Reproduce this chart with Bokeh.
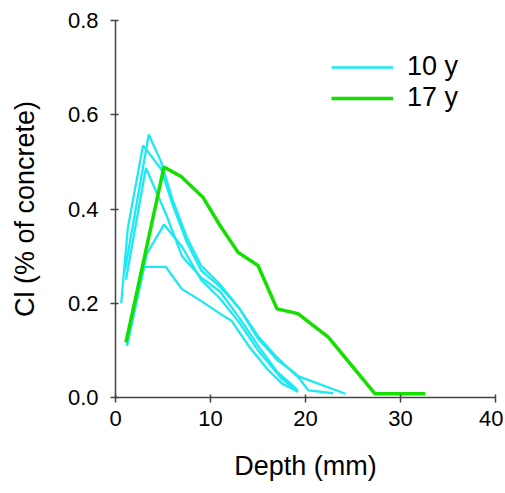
from bokeh.plotting import figure
from bokeh.models import Range1d, FixedTicker, Legend, LegendItem
from bokeh.embed import file_html
from bokeh.resources import INLINE

# 10-year profiles (depth in mm, Cl in % of concrete)
d10_a = [0.6, 1.3, 2.9, 4.8, 6.0, 7.5, 9.0, 11.0, 13.0, 15.0, 17.0, 19.0, 24.2]
c10_a = [0.20, 0.36, 0.535, 0.485, 0.41, 0.33, 0.27, 0.235, 0.19, 0.13, 0.085, 0.047, 0.008]
d10_b = [1.0, 3.5, 4.8, 6.0, 7.5, 9.0, 11.0, 13.0, 15.0, 17.0, 19.0, 20.3, 22.9]
c10_b = [0.27, 0.558, 0.50, 0.42, 0.34, 0.28, 0.24, 0.19, 0.125, 0.08, 0.05, 0.015, 0.009]
d10_c = [1.1, 3.2, 5.3, 7.0, 9.0, 11.0, 13.0, 15.0, 17.0, 19.2]
c10_c = [0.25, 0.487, 0.39, 0.30, 0.255, 0.225, 0.17, 0.11, 0.055, 0.015]
d10_d = [1.2, 3.3, 5.1, 7.0, 9.0, 11.0, 13.0, 15.0, 17.5, 19.2]
c10_d = [0.11, 0.305, 0.367, 0.32, 0.25, 0.21, 0.16, 0.10, 0.04, 0.012]
d10_e = [1.2, 3.0, 5.3, 7.0, 9.0, 11.0, 12.2, 14.0, 16.0, 17.5, 19.2]
c10_e = [0.11, 0.277, 0.277, 0.23, 0.205, 0.178, 0.163, 0.11, 0.06, 0.03, 0.012]

# 17-year profile
d17 = [1.1, 5.1, 6.9, 9.2, 11.0, 12.9, 15.0, 17.0, 19.2, 22.4, 27.3, 32.6]
c17 = [0.117, 0.489, 0.469, 0.425, 0.365, 0.308, 0.28, 0.188, 0.178, 0.128, 0.008, 0.008]

x_ticks = [0, 10, 20, 30, 40]
y_ticks = [0.0, 0.2, 0.4, 0.6, 0.8]
labels = ["10 y", "17 y"]

CYAN = "#1de9f4"
GREEN = "#14e000"
FONT = "Liberation Sans"

p = figure(width=503, height=483, output_backend="svg", toolbar_location=None,
           x_range=Range1d(0, 40), y_range=Range1d(0, 0.8),
           min_border_left=115, min_border_right=8, min_border_top=20, min_border_bottom=83)
p.outline_line_color = None
p.xgrid.visible = False
p.ygrid.visible = False
p.background_fill_color = "white"

cyan_renderers = []
for xs, ys in [(d10_a, c10_a), (d10_b, c10_b), (d10_c, c10_c), (d10_d, c10_d), (d10_e, c10_e)]:
    r = p.line(xs, ys, line_color=CYAN, line_width=2.3)
    cyan_renderers.append(r)
g = p.line(d17, c17, line_color=GREEN, line_width=3.5)

p.xaxis.ticker = FixedTicker(ticks=x_ticks)
p.yaxis.ticker = FixedTicker(ticks=y_ticks)
p.yaxis.major_label_overrides = {t: f"{t:.1f}" for t in y_ticks}
p.xaxis.axis_label = "Depth (mm)"
p.yaxis.axis_label = "Cl (% of concrete)"
for ax in (p.xaxis, p.yaxis):
    ax.axis_label_text_font = FONT
    ax.axis_label_text_font_style = "normal"
    ax.axis_label_text_font_size = "27px"
    ax.axis_label_text_color = "black"
    ax.major_label_text_font = FONT
    ax.major_label_text_font_size = "22px"
    ax.major_label_text_color = "black"
    ax.axis_line_color = "#444444"
    ax.axis_line_width = 1.5
    ax.major_tick_line_color = "#444444"
    ax.major_tick_line_width = 1.5
    ax.major_tick_in = 3
    ax.major_tick_out = 5
    ax.minor_tick_line_color = None
p.yaxis.major_label_standoff = 12
p.yaxis.axis_label_standoff = 25
p.xaxis.major_label_standoff = 8
p.xaxis.axis_label_standoff = 22

legend = Legend(items=[LegendItem(label=labels[0], renderers=[cyan_renderers[0]]),
                       LegendItem(label=labels[1], renderers=[g])],
                location=(216, 284), orientation="vertical")
legend.border_line_color = None
legend.background_fill_alpha = 0
legend.label_text_font = FONT
legend.label_text_font_size = "27px"
legend.label_text_color = "black"
legend.glyph_width = 62
legend.glyph_height = 20
legend.label_height = 20
legend.label_standoff = 14
legend.spacing = 0
legend.padding = 0
legend.margin = 0
p.add_layout(legend)

open("out.html", "w").write(file_html(p, INLINE))
